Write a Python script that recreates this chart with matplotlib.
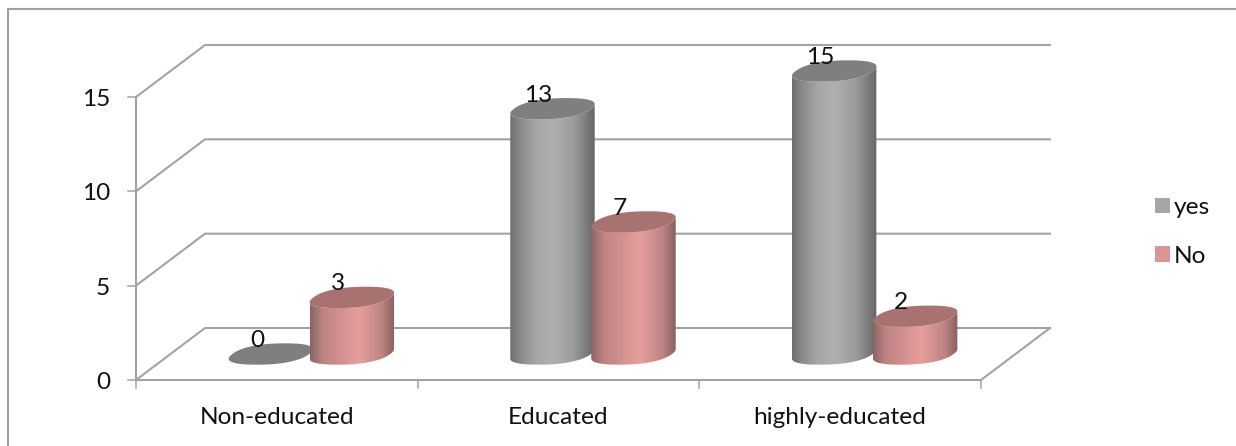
import numpy as np
import matplotlib
matplotlib.use("Agg")
import matplotlib.pyplot as plt
from matplotlib.colors import LinearSegmentedColormap
from matplotlib.lines import Line2D
from matplotlib.patches import Patch, Polygon
from matplotlib.transforms import offset_copy

categories = ["Non-educated", "Educated", "highly-educated"]
series_names = ["yes", "No"]
yes_values = [0, 13, 15]
no_values = [3, 7, 2]
y_ticks = [0, 5, 10, 15]

W, H = 1236, 446
LINE = "#a3a3a3"
TEXT = "#111111"
FONT = ["Lato", "DejaVu Sans"]
FS = 17.6

plt.rcParams["font.family"] = FONT

fig = plt.figure(figsize=(W / 100, H / 100), dpi=100)
# Front plane of the chart box: x from 136 to 981 px, y from 380 to 97 px
ax = fig.add_axes([136 / W, 1 - 380 / H, 845 / W, 283 / H])
ax.set_xlim(0, 3)
ax.set_ylim(0, 15)
ax.axis("off")

PX_X = 845 / 3
PX_Y = 283 / 15

# Depth direction of the oblique projection, per unit of depth
DEPTH_X = 69 / PX_X
DEPTH_Y = 52 / PX_Y


def proj(x, v, d):
    return x + d * DEPTH_X, v + d * DEPTH_Y


def line(xs, ys, lw=1.5, z=1):
    ax.add_line(Line2D(xs, ys, color=LINE, lw=lw, clip_on=False, zorder=z,
                       solid_capstyle="projecting"))


# Back wall gridlines and their side-wall returns
for v in y_ticks:
    x0, y0 = proj(0, v, 1)
    x1, y1 = proj(3, v, 1)
    line([0, x0, x1], [v, y0, y1])

# Floor edges, vertical axis and tick marks
fx, fy = proj(3, 0, 1)
line([0, 3, fx], [0, 0, fy])
line([0, 0], [0, 15])
tick_dx = 8 / PX_X
tick_dy = 8 / PX_Y
for v in y_ticks:
    line([-tick_dx, 0], [v, v], lw=1.1)
    ax.text(-26 / PX_X, v - 2.5 / PX_Y, str(v), ha="right", va="center",
            fontsize=FS, color=TEXT, clip_on=False)
for i in range(4):
    line([i, i], [-tick_dy, 0], lw=1.1)
for i, name in enumerate(categories):
    ax.text(i + 0.5, -37.5 / PX_Y, name, ha="center", va="center",
            fontsize=FS, color=TEXT, clip_on=False)

# Cylinder shape: radius along x and depth half-extent on the floor
RX = 0.1365
RD = 0.205
OFFSET = 0.1438
DEPTH_MID = 0.5
ROUNDNESS = 0.85

gray_map = LinearSegmentedColormap.from_list(
    "gray_body", [(0, "#6e6e6e"), (0.12, "#8a8a8a"), (0.3, "#a6a6a6"), (0.5, "#b0b0b0"),
                  (0.75, "#9c9c9c"), (0.92, "#777777"), (1, "#666666")])
pink_map = LinearSegmentedColormap.from_list(
    "pink_body", [(0, "#8a6463"), (0.15, "#bd8483"), (0.58, "#e89e9d"),
                  (0.85, "#bb8382"), (1, "#876160")])
TOPS = {"yes": "#7f7f7f", "No": "#a87271"}
gradient = np.linspace(0, 1, 256).reshape(1, -1)


def ellipse(cx, v, n=120):
    t = np.linspace(0, 2 * np.pi, n)
    sin_t = np.sign(np.sin(t)) * np.abs(np.sin(t)) ** ROUNDNESS
    cos_t = np.sign(np.cos(t)) * np.abs(np.cos(t)) ** ROUNDNESS
    d = DEPTH_MID + RD * sin_t
    x = cx + RX * cos_t
    return proj(x, v, d)


def cylinder(cx, v, cmap, top, z):
    tx, ty = ellipse(cx, v)
    if v > 0:
        bx, by = ellipse(cx, 0)
        # Outline of the body: the near arc of the base swept up to the top ellipse
        left = np.argmin(bx)
        right = np.argmax(bx)
        arc = np.r_[left:len(bx) - 1, 0:right + 1]
        body = np.column_stack([
            np.r_[bx[arc], tx[arc][::-1]],
            np.r_[by[arc], ty[arc][::-1]],
        ])
        clip = Polygon(body, closed=True, transform=ax.transData, fc="none", ec="none")
        ax.add_patch(clip)
        im = ax.imshow(gradient, cmap=cmap, aspect="auto", zorder=z,
                       extent=[bx.min(), bx.max(), 0, v + 4], interpolation="bilinear")
        ax.set_xlim(0, 3)
        ax.set_ylim(0, 15)
        im.set_clip_box(fig.bbox)
        im.set_clip_path(clip)
    ax.add_patch(Polygon(np.column_stack([tx, ty]), closed=True, fc=top, ec="none",
                         zorder=z + 0.1, clip_on=False))
    return proj(cx, v, DEPTH_MID)


label_offset = offset_copy(ax.transData, fig=fig, x=-14 * 0.72, y=13.5 * 0.72, units="points")
for i in range(3):
    for j, (vals, name, cmap) in enumerate(
        [(yes_values, "yes", gray_map), (no_values, "No", pink_map)]
    ):
        cx = i + 0.5 + (j * 2 - 1) * OFFSET
        v = vals[i]
        top_x, top_y = cylinder(cx, v, cmap, TOPS[name], z=3 + i * 2 + j * 0.5)
        ax.text(top_x, top_y, str(v), transform=label_offset, ha="center", va="center",
                fontsize=FS, color=TEXT, clip_on=False, zorder=12)

# Legend on the right
handles = [Patch(fc="#a6a6a6", ec="none"), Patch(fc="#d99694", ec="none")]
fig.legend(handles, series_names, loc="center left",
           bbox_to_anchor=(1133 / W, 1 - 232 / H), frameon=False,
           fontsize=FS, handlelength=0.62, handleheight=0.62,
           handletextpad=0.16, labelspacing=1.14, labelcolor=TEXT)

# Partial chart frame: the top and left edges only
fig.add_artist(Line2D([8 / W, 8 / W, 1], [0, 1 - 9 / H, 1 - 9 / H],
                      color="#a0a0a0", lw=1.5, transform=fig.transFigure))

fig.savefig("out.png", dpi=100)
